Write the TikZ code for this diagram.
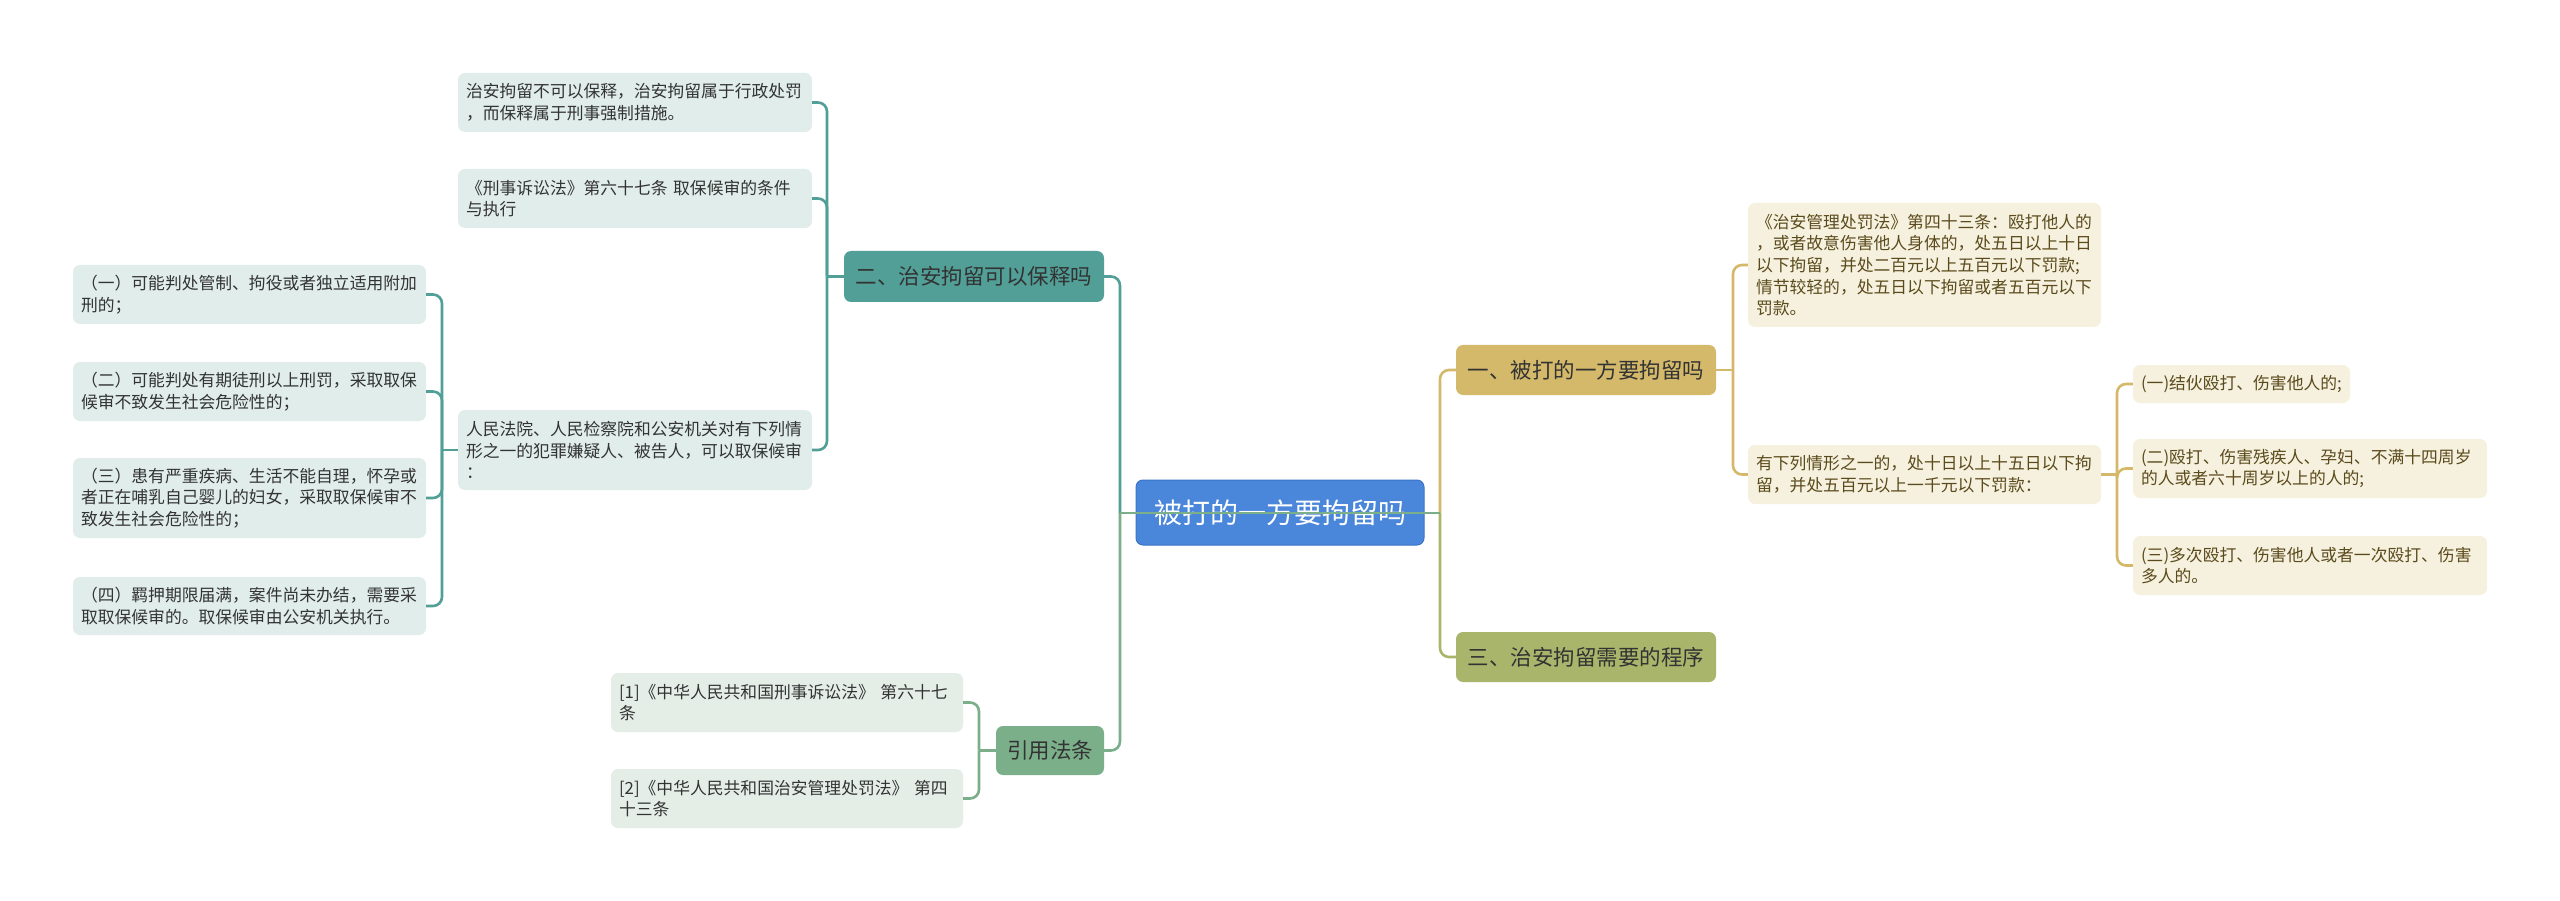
\documentclass[tikz,border=0pt]{standalone}
\usepackage{fontspec}
\setmainfont{Noto Sans CJK SC}
\definecolor{rootblue}{HTML}{4A86DA}
\definecolor{rootedge}{HTML}{3C74C6}
\definecolor{teal1}{HTML}{519F97}
\definecolor{green1}{HTML}{7AAF8A}
\definecolor{gold1}{HTML}{D4B96B}
\definecolor{olive1}{HTML}{A9B56B}
\definecolor{tealbg}{HTML}{E0EDEA}
\definecolor{greenbg}{HTML}{E4EEE7}
\definecolor{creambg}{HTML}{F5F1DE}
\definecolor{lefttext}{HTML}{333333}
\definecolor{righttext}{HTML}{5B4A1C}
\newcommand\mybox[7]{%
  \pgfmathsetmacro\myCX{(#2+#4)/2}%
  \pgfmathsetmacro\myCY{(#3+#5)/2}%
  \pgfmathsetmacro\myBH{#5-#3}%
  \pgfmathsetmacro\myTW{#4-#2-16}%
  \node[#6, text width=\myTW pt, minimum height=\myBH pt] (#1) at (\myCX,\myCY) {#7};}
\begin{document}
\begin{tikzpicture}[x=1pt,y=-1pt,
  leaf/.style={rectangle, rounded corners=7pt, inner xsep=8pt, inner ysep=0pt,
    align=left, font=\fontsize{16.8}{21.7}\selectfont},
  lleaf/.style={leaf, fill=tealbg, text=lefttext},
  gleaf/.style={leaf, fill=greenbg, text=lefttext},
  rleaf/.style={leaf, fill=creambg, text=righttext},
  mainbox/.style={rectangle, rounded corners=7pt, inner sep=0pt, align=center,
    font=\fontsize{21.5}{26}\selectfont, text=lefttext},
  conn/.style={line width=2.6pt, rounded corners=9pt},
  cteal/.style={conn, draw=teal1},
  cgreen/.style={conn, draw=green1},
  cgold/.style={conn, draw=gold1},
  colive/.style={conn, draw=olive1}]
\useasboundingbox (0,0) rectangle (2560,901);
\fill[white] (0,0) rectangle (2560,901);

% root
\node[rectangle, rounded corners=7pt, fill=rootblue, draw=rootedge, line width=1pt,
  minimum width=288pt, minimum height=65pt, inner sep=0pt, text=white,
  font=\fontsize{28}{32}\selectfont] (root) at (1280,512.5) {被打的一方要拘留吗};

% level 1
\node[mainbox, fill=teal1, minimum width=260pt, minimum height=51pt] (l1) at (974,276.5) {二、治安拘留可以保释吗};
\node[mainbox, fill=green1, minimum width=108pt, minimum height=49pt] (l2) at (1050,750.5) {引用法条};
\node[mainbox, fill=gold1, minimum width=260pt, minimum height=50pt] (r1) at (1586,370) {一、被打的一方要拘留吗};
\node[mainbox, fill=olive1, minimum width=260pt, minimum height=50pt] (r3) at (1586,657) {三、治安拘留需要的程序};

% left level 2
\mybox{a1}{458}{73}{812}{132}{lleaf}{治安拘留不可以保释，治安拘留属于行政处罚\\，而保释属于刑事强制措施。}
\mybox{a2}{458}{169}{812}{228}{lleaf}{《刑事诉讼法》第六十七条~取保候审的条件\\与执行}
\mybox{a3}{458}{410}{812}{490}{lleaf}{人民法院、人民检察院和公安机关对有下列情\\形之一的犯罪嫌疑人、被告人，可以取保候审\\：}

% left level 3
\mybox{b1}{73}{265}{426}{324}{lleaf}{（一）可能判处管制、拘役或者独立适用附加\\刑的；}
\mybox{b2}{73}{362}{426}{421}{lleaf}{（二）可能判处有期徒刑以上刑罚，采取取保\\候审不致发生社会危险性的；}
\mybox{b3}{73}{458}{426}{538}{lleaf}{（三）患有严重疾病、生活不能自理，怀孕或\\者正在哺乳自己婴儿的妇女，采取取保候审不\\致发生社会危险性的；}
\mybox{b4}{73}{577}{426}{635}{lleaf}{（四）羁押期限届满，案件尚未办结，需要采\\取取保候审的。取保候审由公安机关执行。}

% citations
\mybox{c1}{611}{673}{963}{732}{gleaf}{[1]《中华人民共和国刑事诉讼法》~第六十七\\条}
\mybox{c2}{611}{769}{963}{828}{gleaf}{[2]《中华人民共和国治安管理处罚法》~第四\\十三条}

% right level 2
\mybox{d1}{1748}{203}{2101}{327}{rleaf}{《治安管理处罚法》第四十三条：殴打他人的\\，或者故意伤害他人身体的，处五日以上十日\\以下拘留，并处二百元以上五百元以下罚款;\\情节较轻的，处五日以下拘留或者五百元以下\\罚款。}
\mybox{d2}{1748}{445}{2101}{504}{rleaf}{有下列情形之一的，处十日以上十五日以下拘\\留，并处五百元以上一千元以下罚款：}

% right level 3
\mybox{e1}{2133}{365}{2350}{403}{rleaf}{(一)结伙殴打、伤害他人的;}
\mybox{e2}{2133}{439}{2487}{498}{rleaf}{(二)殴打、伤害残疾人、孕妇、不满十四周岁\\的人或者六十周岁以上的人的;}
\mybox{e3}{2133}{536}{2487}{595}{rleaf}{(三)多次殴打、伤害他人或者一次殴打、伤害\\多人的。}

% connectors
\coordinate (rj) at (1440,513);
\coordinate (lj) at (1120,513);
\draw[cgold] (rj) |- (r1.west);
\draw[colive] (rj) |- (r3.west);
\draw[cteal] (lj) |- (l1.east);
\draw[cgreen] (lj) |- (l2.east);
\draw[cgreen] (rj) -- (lj);

% teal subtree
\coordinate (j1) at (827,276.5);
\draw[cteal] (l1.west) -- (j1);
\draw[cteal] (j1) |- (a1.east);
\draw[cteal] (j1) |- (a2.east);
\draw[cteal] (j1) |- (a3.east);
\coordinate (j2) at (442,450);
\draw[cteal] (a3.west) -- (j2);
\draw[cteal] (j2) |- (b1.east);
\draw[cteal] (j2) |- (b2.east);
\draw[cteal] (j2) |- (b3.east);
\draw[cteal] (j2) |- (b4.east);

% green subtree
\coordinate (j3) at (979,750.5);
\draw[cgreen] (l2.west) -- (j3);
\draw[cgreen] (j3) |- (c1.east);
\draw[cgreen] (j3) |- (c2.east);

% gold subtree
\coordinate (j4) at (1733,370);
\draw[cgold] (r1.east) -- (j4);
\draw[cgold] (j4) |- (d1.west);
\draw[cgold] (j4) |- (d2.west);
\coordinate (j5) at (2117,474.5);
\draw[cgold] (d2.east) -- (j5);
\draw[cgold] (j5) |- (e1.west);
\draw[cgold] (j5) |- (e2.west);
\draw[cgold] (j5) |- (e3.west);
\end{tikzpicture}
\end{document}
